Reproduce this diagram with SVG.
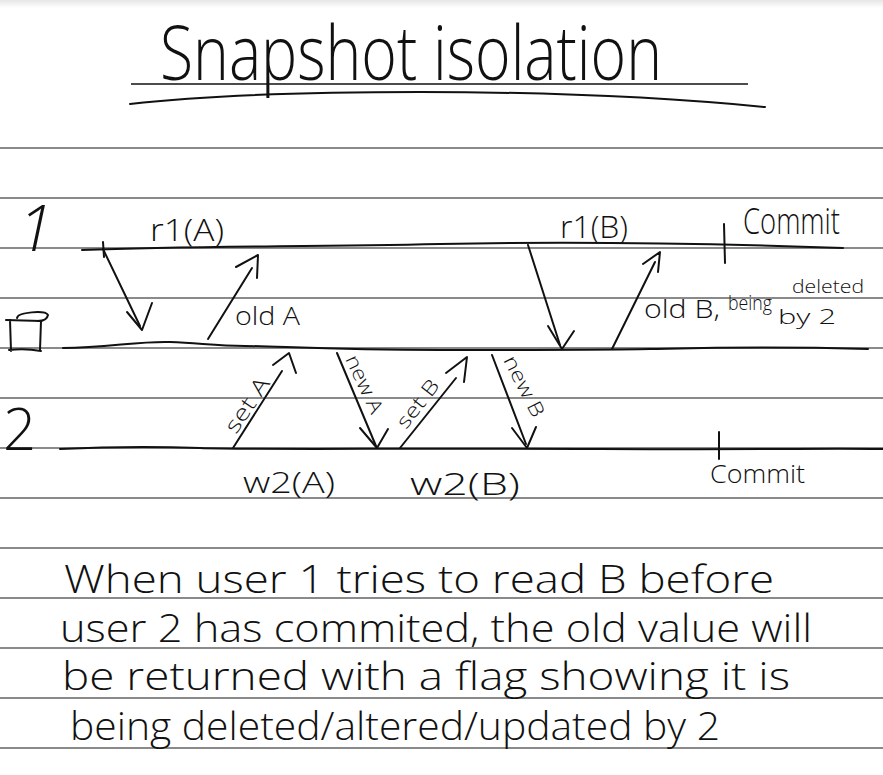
<svg xmlns="http://www.w3.org/2000/svg" width="883" height="775" viewBox="0 0 883 775">
  <defs>
    <linearGradient id="scanEdge" x1="0" y1="0" x2="0" y2="1">
      <stop offset="0" stop-color="#e6e6e6"/>
      <stop offset="1" stop-color="#ffffff"/>
    </linearGradient>
    <style>
      .rule { stroke: #8a8a8a; stroke-width: 2; fill: none; }
      .ink { stroke: #111; stroke-width: 2; fill: none; stroke-linecap: round; stroke-linejoin: round; }
      .hand { font-family: "Open Sans", "Liberation Sans", sans-serif; font-weight: 300; fill: #111; }
    </style>
  </defs>

  <!-- paper -->
  <rect width="883" height="775" fill="#ffffff"/>
  <rect width="883" height="8" fill="url(#scanEdge)"/>

  <!-- ruled lines -->
  <g id="ruling">
    <line class="rule" x1="0" y1="148" x2="883" y2="148"/>
    <line class="rule" x1="0" y1="198" x2="883" y2="198"/>
    <line class="rule" x1="0" y1="248" x2="883" y2="248"/>
    <line class="rule" x1="0" y1="298" x2="883" y2="298"/>
    <line class="rule" x1="0" y1="348" x2="883" y2="348"/>
    <line class="rule" x1="0" y1="398" x2="883" y2="398"/>
    <line class="rule" x1="0" y1="448" x2="883" y2="448"/>
    <line class="rule" x1="0" y1="498" x2="883" y2="498"/>
    <line class="rule" x1="0" y1="548" x2="883" y2="548"/>
    <line class="rule" x1="0" y1="598" x2="883" y2="598"/>
    <line class="rule" x1="0" y1="648" x2="883" y2="648"/>
    <line class="rule" x1="0" y1="698" x2="883" y2="698"/>
    <line class="rule" x1="0" y1="748" x2="883" y2="748"/>
  </g>

  <!-- heading -->
  <g id="title">
    <text class="hand" x="160" y="80" font-size="76" textLength="502" lengthAdjust="spacingAndGlyphs">Snapshot isolation</text>
    <line x1="131" y1="84" x2="748" y2="84" stroke="#111" stroke-width="1.6"/>
    <path class="ink" d="M130 104 C 200 96, 300 92, 420 92 S 650 96, 765 107" stroke-width="2.2"/>
  </g>

  <!-- user 1 timeline -->
  <g id="user-1">
    <text class="hand" x="18" y="251" font-size="64" font-family="Liberation Serif, serif" font-style="italic">1</text>
    <path class="ink" d="M82 250 C 200 246, 300 247, 440 244 S 700 243, 843 248"/>
    <path class="ink" d="M103 242 L 104 257"/>
    <text class="hand" x="150" y="241" font-size="32" textLength="74" lengthAdjust="spacingAndGlyphs">r1(A)</text>
    <text class="hand" x="560" y="238" font-size="32" textLength="68" lengthAdjust="spacingAndGlyphs">r1(B)</text>
    <path class="ink" d="M724 224 L 725 263"/>
    <text class="hand" x="743" y="234" font-size="36" textLength="97" lengthAdjust="spacingAndGlyphs">Commit</text>
  </g>

  <!-- database timeline -->
  <g id="database">
    <path class="ink" d="M6 320 L 41 321 M10 320 L 11 351 M41 321 L 40 350 M9 350 Q 25 348 41 351"/>
    <path class="ink" d="M17 318 C 18 312, 45 310, 48 315 C 47 320, 42 321, 38 321"/>
    <path class="ink" d="M63 348 C 110 347, 140 341, 170 342 S 215 346, 245 346 S 330 350, 440 350 S 600 350, 650 349 S 760 346, 868 349"/>
  </g>

  <!-- user 2 timeline -->
  <g id="user-2">
    <text class="hand" x="3" y="450" font-size="58">2</text>
    <path class="ink" d="M60 449 C 100 447, 150 446, 200 448 S 400 448, 600 449 S 800 448, 883 449"/>
    <text class="hand" x="243" y="493" font-size="30" textLength="92" lengthAdjust="spacingAndGlyphs">w2(A)</text>
    <text class="hand" x="410" y="495" font-size="32" textLength="110" lengthAdjust="spacingAndGlyphs">w2(B)</text>
    <path class="ink" d="M719 432 L 719 459"/>
    <text class="hand" x="710" y="483" font-size="26" textLength="95" lengthAdjust="spacingAndGlyphs">Commit</text>
  </g>

  <!-- messages between the transactions and the store -->
  <g id="connectors">
    <!-- read A -->
    <path class="ink" d="M103 249 L 140 326"/>
    <path class="ink" d="M127 312 L 142 330 L 152 303"/>
    <!-- old A returned -->
    <path class="ink" d="M208 339 L 252 268"/>
    <path class="ink" d="M236 267 L 258 255 L 257 278"/>
    <!-- read B -->
    <path class="ink" d="M528 245 L 560 345"/>
    <path class="ink" d="M548 326 L 562 349 L 574 331"/>
    <!-- old B returned -->
    <path class="ink" d="M612 349 L 655 262"/>
    <path class="ink" d="M643 264 L 660 252 L 658 272"/>
    <!-- set A -->
    <path class="ink" d="M233 448 L 282 371"/>
    <path class="ink" d="M273 365 L 289 353 L 296 373"/>
    <!-- new A -->
    <path class="ink" d="M337 353 L 376 446"/>
    <path class="ink" d="M360 428 L 377 448 L 388 429"/>
    <!-- set B -->
    <path class="ink" d="M400 448 L 456 378"/>
    <path class="ink" d="M446 373 L 467 357 L 464 382"/>
    <!-- new B -->
    <path class="ink" d="M492 355 L 526 444"/>
    <path class="ink" d="M512 428 L 527 448 L 536 427"/>
  </g>

  <!-- message labels -->
  <g id="message-labels">
    <text class="hand" x="235" y="325" font-size="25" textLength="65" lengthAdjust="spacingAndGlyphs">old A</text>
    <text class="hand" x="644" y="318" font-size="25" textLength="76" lengthAdjust="spacingAndGlyphs">old B,</text>
    <text class="hand" x="728" y="310" font-size="21" textLength="44" lengthAdjust="spacingAndGlyphs">being</text>
    <text class="hand" x="792" y="293" font-size="19" textLength="72" lengthAdjust="spacingAndGlyphs">deleted</text>
    <text class="hand" x="778" y="324" font-size="21" textLength="58" lengthAdjust="spacingAndGlyphs">by 2</text>
    <text class="hand" font-size="22" textLength="62" lengthAdjust="spacingAndGlyphs" transform="translate(236 435) rotate(-56)">set A</text>
    <text class="hand" font-size="20" textLength="62" lengthAdjust="spacingAndGlyphs" transform="translate(345 359) rotate(65)">new A</text>
    <text class="hand" font-size="20" textLength="56" lengthAdjust="spacingAndGlyphs" transform="translate(406 430) rotate(-52)">set B</text>
    <text class="hand" font-size="20" textLength="66" lengthAdjust="spacingAndGlyphs" transform="translate(503 360) rotate(63)">new B</text>
  </g>

  <!-- explanatory note -->
  <g id="note">
    <text class="hand" x="64" y="593" font-size="38" textLength="710" lengthAdjust="spacingAndGlyphs">When user 1 tries to read B before</text>
    <text class="hand" x="60" y="642" font-size="38" textLength="752" lengthAdjust="spacingAndGlyphs">user 2 has commited, the old value will</text>
    <text class="hand" x="62" y="690" font-size="38" textLength="728" lengthAdjust="spacingAndGlyphs">be returned with a flag showing it is</text>
    <text class="hand" x="70" y="740" font-size="38" textLength="650" lengthAdjust="spacingAndGlyphs">being deleted/altered/updated by 2</text>
  </g>
</svg>
